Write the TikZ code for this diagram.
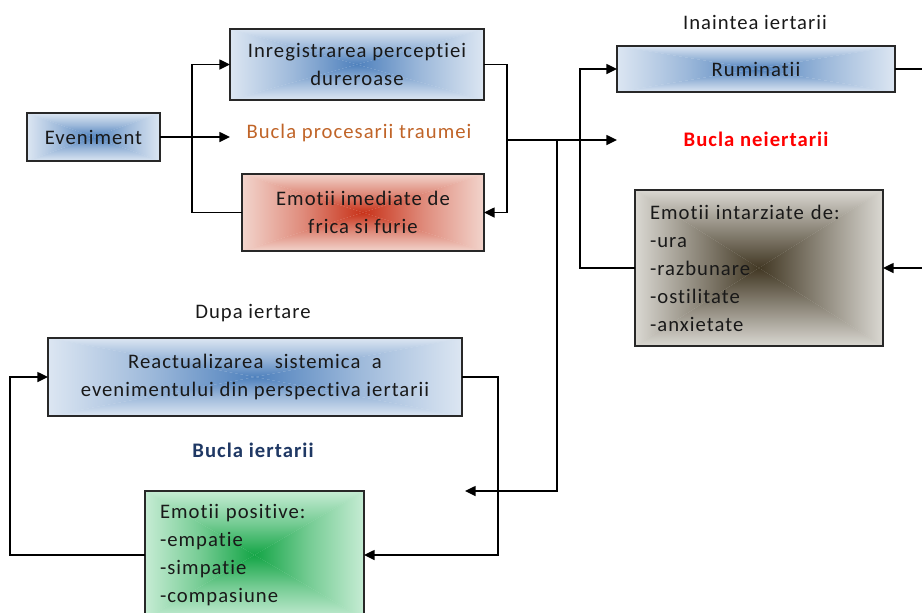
\documentclass[tikz,border=0pt]{standalone}
\usepackage{fontspec}
\setmainfont{Carlito}[LetterSpace=5,Ligatures={NoCommon,NoDiscretionary}]
\usetikzlibrary{arrows.meta,calc}
\definecolor{blueIn}{RGB}{79,129,189}
\definecolor{blueOut}{RGB}{220,230,242}
\definecolor{redIn}{RGB}{200,50,25}
\definecolor{redOut}{RGB}{242,212,204}
\definecolor{greyIn}{RGB}{66,56,36}
\definecolor{greyOut}{RGB}{218,216,210}
\definecolor{greenIn}{RGB}{20,165,70}
\definecolor{greenOut}{RGB}{198,236,212}
\definecolor{bord}{RGB}{40,40,40}
\definecolor{txt}{RGB}{25,25,25}
\definecolor{orangeT}{RGB}{192,100,40}
\definecolor{navyT}{RGB}{31,56,100}
\newcommand\ctrshade[3]{%
  \path (path picture bounding box.north west) coordinate (q1)
        (path picture bounding box.north east) coordinate (q2)
        (path picture bounding box.south east) coordinate (q3)
        (path picture bounding box.south west) coordinate (q4)
        (path picture bounding box.center) coordinate (qc);
  \fill[#2] (q1) rectangle (q3);
  \begin{scope}\clip (q1) -- (q2) -- (qc) -- cycle;
    \shade[top color=#2, bottom color=#1, middle color=#3] (q1) rectangle (qc -| q2);\end{scope}
  \begin{scope}\clip (q4) -- (q3) -- (qc) -- cycle;
    \shade[top color=#1, bottom color=#2, middle color=#3] (q4) rectangle (qc -| q3);\end{scope}
  \begin{scope}\clip (q1) -- (q4) -- (qc) -- cycle;
    \shade[left color=#2, right color=#1, middle color=#3] (q1) rectangle (qc |- q4);\end{scope}
  \begin{scope}\clip (q2) -- (q3) -- (qc) -- cycle;
    \shade[left color=#1, right color=#2, middle color=#3] (qc |- q2) rectangle (q3);\end{scope}
}
\tikzset{
  txtfont/.style={font=\fontsize{15.5}{21}\selectfont},
  box/.style={draw=bord, line width=1.1pt, inner sep=0pt, outer sep=0pt, txtfont, text=txt, align=center},
  blueb/.style={path picture={\ctrshade{blueIn}{blueOut}{blueIn!45!blueOut}}},
  redb/.style={path picture={\ctrshade{redIn}{redOut}{redIn!45!redOut}}},
  greyb/.style={path picture={\ctrshade{greyIn}{greyOut}{greyIn!50!greyOut}}},
  greenb/.style={path picture={\ctrshade{greenIn}{greenOut}{greenIn!45!greenOut}}},
  lbl/.style={txtfont, text=txt, inner sep=0pt},
  boldlbl/.style={font=\fontsize{15.5}{21}\selectfont\bfseries, inner sep=0pt},
  conn/.style={draw=black, line width=1.1pt},
  arr/.style={conn, -{Triangle[length=8pt,width=7.5pt]}}
}
\begin{document}
\begin{tikzpicture}[x=0.75pt,y=-0.75pt]
\useasboundingbox (0,0) rectangle (922,612);
\clip (0,0) rectangle (922,612);
% boxes
\node[box, blueb, minimum width=99.75pt, minimum height=36pt] (ev) at (93.5,137) {Eveniment};
\node[box, blueb, minimum width=190.5pt, minimum height=53.25pt] (inr) at (357,64.5) {Inregistrarea perceptiei\\dureroase};
\node[box, redb, minimum width=181.5pt, minimum height=57.75pt] (emi) at (363,212.5) {Emotii imediate de\\frica si furie};
\node[box, blueb, minimum width=208.5pt, minimum height=34.5pt] (rum) at (756,69) {Ruminatii};
\node[box, greyb, minimum width=186pt, minimum height=117pt, text width=163.5pt, inner xsep=11.25pt, align=left] (gr) at (759,268) {Emotii intarziate de:\\-ura\\-razbunare\\-ostilitate\\-anxietate};
\node[box, blueb, minimum width=310.5pt, minimum height=58.5pt] (re) at (255,377) {Reactualizarea \ sistemica \ a\\evenimentului din perspectiva iertarii};
\node[box, greenb, minimum width=164.25pt, minimum height=96pt, text width=141.75pt, inner xsep=11.25pt, align=left] (gp) at (254.5,555) {Emotii positive:\\-empatie\\-simpatie\\-compasiune};
% labels
\node[lbl] (ina) at (755,22) {Inaintea iertarii};
\node[lbl, text=orangeT] (bpt) at (359,133) {Bucla procesarii traumei};
\node[boldlbl, text=red] (bn) at (756,139) {Bucla neiertarii};
\node[lbl] (dup) at (253,313) {Dupa iertare};
\node[boldlbl, text=navyT] (bi) at (253,450) {Bucla iertarii};
% connector points
\coordinate (j1) at (507,140);
\coordinate (j2) at (557,140);
\coordinate (e3) at (465,491);
\coordinate (rx) at (935,69);
\coordinate (gx) at (935,268);
% connectors
\draw[arr] (ev.east) -- (ev.east -| inr.west);
\draw[arr] (emi.west) -- ++(-50,0) |- (inr.west);
\draw[arr] (inr.east) -- ++(23,0) |- (emi.east);
\draw[arr] (j1) -- (j1 -| rum.west);
\draw[arr] (j2) |- (e3);
\draw[arr] (gr.west) -- ++(-55,0) |- (rum.west);
\draw[conn] (rum.east) -- (rx);
\draw[arr] (gx) -- (gr.east);
\draw[arr] (re.east) -- ++(36,0) |- (gp.east);
\draw[arr] (gp.west) -- ++(-135,0) |- (re.west);
\end{tikzpicture}
\end{document}
